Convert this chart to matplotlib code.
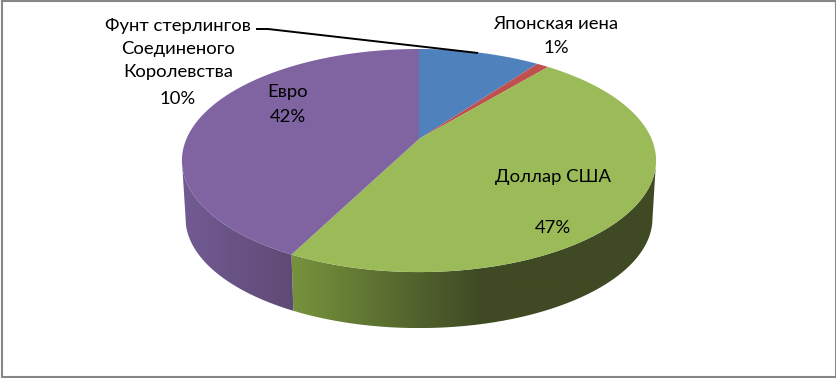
import matplotlib
matplotlib.use("Agg")
import matplotlib.pyplot as plt
from matplotlib.patches import PathPatch
from matplotlib.path import Path
import numpy as np

plt.rcParams["font.family"] = ["Lato", "DejaVu Sans"]

categories = ["Фунт стерлингов\nСоединеного\nКоролевства", "Японская иена", "Доллар США", "Евро"]
values = [10.0, 1.0, 46.5, 42.5]
pct_labels = ["10%", "1%", "47%", "42%"]
colors = ["#4f81bd", "#c0504d", "#9bbb59", "#8064a2"]

# pixel geometry of the tilted disc
CX, CY = 419.0, 139.0
A, B, K = 232.6, 107.4, 0.193
BOTTOM_CY, BOTTOM_S = 197.0, 0.985
# angles where the disc outline is widest on screen
RIGHT_EXTREME = np.degrees(np.arccos(-K))
LEFT_EXTREME = 360.0 - RIGHT_EXTREME


def project(theta, bottom=False):
    """theta: clockwise from the top of the disc, degrees -> pixel coordinates."""
    t = np.radians(theta)
    u, v = np.sin(t), np.cos(t)
    w = 1 + K * v
    x, y = A * u / w, -B * v / w
    if bottom:
        return CX + x * BOTTOM_S, BOTTOM_CY + y * BOTTOM_S
    return CX + x, CY + y


def side_wall(ax, a0, a1, c0, c1, x0, x1):
    """x-gradient from c0 at x0 to c1 at x1, clipped to the wall between two angles."""
    th = np.linspace(a0, a1, 300)
    xt, yt = project(th)
    xb, yb = project(th[::-1], True)
    xs = np.r_[xt, xb]
    ys = np.r_[yt, yb]
    c0 = np.array(matplotlib.colors.to_rgb(c0))
    c1 = np.array(matplotlib.colors.to_rgb(c1))
    grid = np.linspace(xs.min(), xs.max(), 400)
    t = np.clip((grid - x0) / (x1 - x0), 0, 1)[:, None]
    img = (c0 + (c1 - c0) * t)[None, :, :]
    im = ax.imshow(img, extent=[xs.min(), xs.max(), ys.max(), ys.min()],
                   aspect="auto", zorder=1, interpolation="bilinear")
    clip = PathPatch(Path(np.c_[xs, ys]), transform=ax.transData, fc="none", ec="none")
    ax.add_patch(clip)
    im.set_clip_path(clip)


fig = plt.figure(figsize=(8.37, 3.78), dpi=100)
ax = fig.add_axes([0, 0, 1, 1])
ax.axis("off")

edges = np.concatenate([[0], np.cumsum(values)]) / sum(values) * 360

# side wall, only the near half shows
side_wall(ax, RIGHT_EXTREME, edges[3], "#3f4a24", "#76923c", 480, 295)
side_wall(ax, edges[3], LEFT_EXTREME, "#705a91", "#5f4a75", 188, 295)

ax.set_xlim(0, 837)
ax.set_ylim(378, 0)

# top face
for i, col in enumerate(colors):
    th = np.linspace(edges[i], edges[i + 1], 200)
    x, y = project(th)
    ax.fill(np.r_[CX, x], np.r_[CY, y], color=col, lw=0, zorder=2)

# leader line of the pound label
ax.plot([256, 268, 478], [29, 29, 53], color="black", lw=1.4, zorder=3, solid_capstyle="butt")

fs = 13.3
ax.text(178, 49, categories[0], ha="center", va="center", fontsize=fs, linespacing=1.55, zorder=4)
ax.text(178, 99, pct_labels[0], ha="center", va="center", fontsize=fs, zorder=4)
ax.text(556, 24, categories[1], ha="center", va="center", fontsize=fs, zorder=4)
ax.text(556, 48, pct_labels[1], ha="center", va="center", fontsize=fs, zorder=4)
ax.text(553, 177, categories[2], ha="center", va="center", fontsize=fs, zorder=4)
ax.text(553, 228, pct_labels[2], ha="center", va="center", fontsize=fs, zorder=4)
ax.text(288, 92, categories[3], ha="center", va="center", fontsize=fs, zorder=4)
ax.text(288, 117, pct_labels[3], ha="center", va="center", fontsize=fs, zorder=4)

# chart frame
ax.plot([2, 836, 836, 2, 2], [1, 1, 377, 377, 1], color="#868686", lw=1.5, zorder=5, clip_on=False)

fig.savefig("out.png", dpi=100)
plt.close(fig)
